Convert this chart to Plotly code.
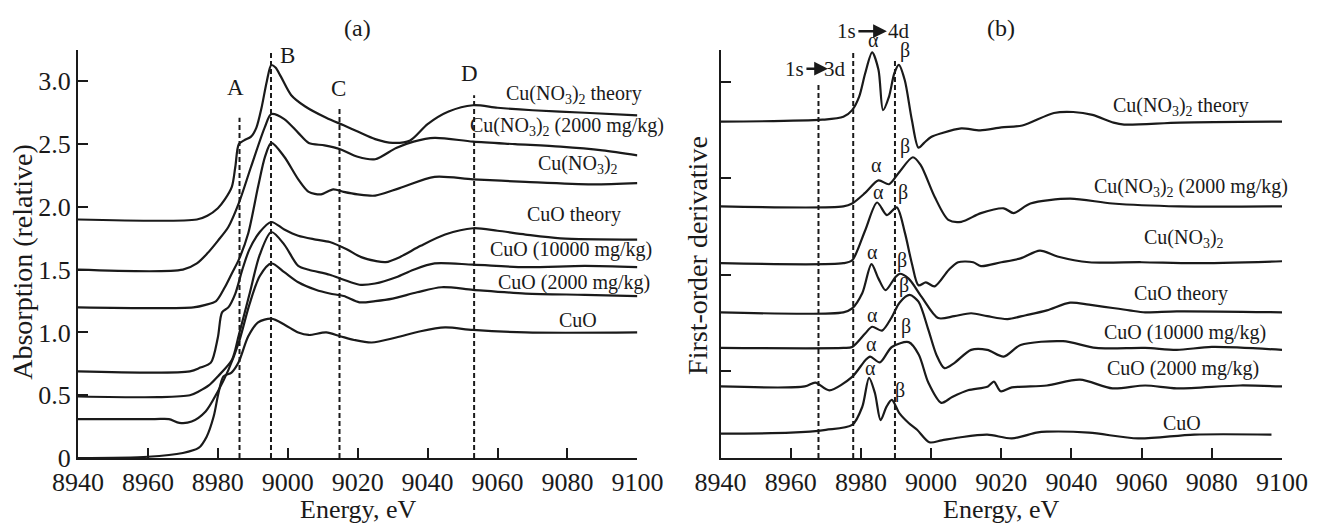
import plotly.graph_objects as go

FONT = "Liberation Serif, Times New Roman, serif"
INK = "#1a1a1a"

# ---------------- Panel (a): absorption spectra ----------------
a_names = ["Cu(NO<sub>3</sub>)<sub>2</sub> theory",
           "Cu(NO<sub>3</sub>)<sub>2</sub> (2000 mg/kg)",
           "Cu(NO<sub>3</sub>)<sub>2</sub>",
           "CuO theory",
           "CuO (10000 mg/kg)",
           "CuO (2000 mg/kg)",
           "CuO"]

a1_E = [8940, 8974, 8977, 8980, 8982, 8984, 8985, 8986, 8987.5, 8989.5, 8991, 8992.5, 8994, 8995.3, 8996.5, 8998, 9001, 9005, 9011, 9016, 9020, 9025, 9030, 9035, 9040, 9046, 9053, 9060, 9070, 9085, 9100]
a1_Y = [1.90, 1.90, 1.93, 1.99, 2.06, 2.16, 2.32, 2.50, 2.53, 2.56, 2.63, 2.79, 3.00, 3.13, 3.11, 3.04, 2.89, 2.80, 2.71, 2.65, 2.60, 2.54, 2.51, 2.53, 2.66, 2.76, 2.81, 2.79, 2.77, 2.75, 2.73]

a2_E = [8940, 8970, 8974, 8977, 8980, 8983, 8986, 8989.5, 8993.5, 8995.3, 8999, 9003, 9006, 9010.5, 9015, 9020, 9025, 9031, 9036, 9042, 9053, 9065, 9078, 9090, 9100]
a2_Y = [1.50, 1.50, 1.55, 1.63, 1.73, 1.84, 2.03, 2.32, 2.64, 2.74, 2.70, 2.59, 2.51, 2.49, 2.46, 2.40, 2.38, 2.47, 2.52, 2.55, 2.52, 2.50, 2.48, 2.45, 2.41]

a3_E = [8940, 8973, 8976.5, 8979.5, 8982, 8984, 8986, 8988.7, 8991.5, 8993.5, 8995.3, 8999, 9003, 9006, 9009.5, 9013, 9016, 9020, 9025, 9032, 9042, 9053, 9068, 9087, 9100]
a3_Y = [1.20, 1.20, 1.22, 1.25, 1.36, 1.47, 1.58, 1.79, 2.16, 2.40, 2.51, 2.40, 2.22, 2.12, 2.10, 2.14, 2.12, 2.10, 2.09, 2.15, 2.24, 2.22, 2.20, 2.18, 2.19]

a4_E = [8940, 8972, 8975, 8978, 8980, 8981.2, 8983, 8985, 8987, 8989, 8992, 8995.3, 8999, 9003, 9008, 9012, 9017, 9021, 9025, 9028, 9032, 9038, 9045, 9053, 9060, 9068, 9078, 9100]
a4_Y = [0.69, 0.69, 0.72, 0.76, 0.96, 1.16, 1.20, 1.31, 1.50, 1.66, 1.80, 1.88, 1.82, 1.77, 1.74, 1.72, 1.66, 1.60, 1.57, 1.56, 1.60, 1.69, 1.78, 1.83, 1.81, 1.78, 1.75, 1.74]

a5_E = [8940, 8963, 8972, 8974.5, 8977.5, 8980, 8984, 8986, 8989, 8992, 8995.3, 8999, 9003, 9006, 9012, 9016, 9020.5, 9025, 9031, 9036, 9042, 9053, 9068, 9085, 9100]
a5_Y = [0.49, 0.485, 0.50, 0.53, 0.58, 0.65, 0.78, 0.98, 1.30, 1.62, 1.80, 1.70, 1.53, 1.50, 1.46, 1.42, 1.38, 1.39, 1.44, 1.50, 1.55, 1.54, 1.52, 1.53, 1.52]

a6_E = [8940, 8962, 8966, 8969, 8972.5, 8976.5, 8980, 8983, 8986, 8989, 8992, 8995.3, 8999, 9003, 9008, 9012, 9016, 9020.5, 9025, 9030, 9037, 9044, 9053, 9068, 9085, 9100]
a6_Y = [0.31, 0.31, 0.31, 0.28, 0.29, 0.37, 0.53, 0.70, 0.92, 1.22, 1.45, 1.55, 1.48, 1.40, 1.34, 1.31, 1.29, 1.24, 1.25, 1.27, 1.32, 1.36, 1.34, 1.31, 1.30, 1.29]

a7_E = [8940, 8960, 8970, 8974.5, 8976.8, 8978.8, 8980.2, 8981.6, 8983.9, 8985.9, 8988.7, 8991.5, 8995.3, 8999.2, 9003, 9006, 9011, 9015, 9019, 9024, 9031, 9038, 9045, 9053, 9068, 9100]
a7_Y = [0.00, 0.01, 0.04, 0.08, 0.17, 0.33, 0.52, 0.65, 0.68, 0.76, 0.97, 1.08, 1.11, 1.06, 1.00, 0.98, 1.00, 0.97, 0.94, 0.92, 0.96, 1.01, 1.04, 1.02, 1.00, 1.00]

a_curves = [(a1_E, a1_Y), (a2_E, a2_Y), (a3_E, a3_Y), (a4_E, a4_Y), (a5_E, a5_Y), (a6_E, a6_Y), (a7_E, a7_Y)]
a_label_E = [9082, 9080, 9083, 9082, 9081, 9082, 9083]
a_label_Y = [2.895, 2.64, 2.34, 1.94, 1.66, 1.40, 1.10]

# feature markers A-D: energy, top of dashed line
feat_names = ["A", "B", "C", "D"]
feat_E = [8986.2, 8995.2, 9014.8, 9053.3]
feat_top = [2.71, 3.25, 2.78, 2.89]
feat_label_E = [8985.0, 8999.9, 9014.6, 9052.0]
feat_label_Y = [2.95, 3.21, 2.94, 3.06]

# ---------------- Panel (b): first-order derivative ----------------
b1_E = [8940, 8969, 8975, 8977.5, 8979.5, 8981.2, 8983.2, 8985, 8986.3, 8988, 8989.5, 8990.8, 8992.5, 8994.5, 8996.4, 8998, 9000, 9003, 9008.6, 9014, 9020, 9026, 9035, 9040.5, 9046, 9052, 9055, 9071, 9100]
b1_Y = [2.59, 2.61, 2.64, 2.71, 2.85, 3.09, 3.31, 3.13, 2.71, 2.85, 3.09, 3.18, 3.02, 2.61, 2.32, 2.37, 2.43, 2.47, 2.52, 2.50, 2.53, 2.55, 2.68, 2.69, 2.66, 2.58, 2.56, 2.58, 2.59]

b2_E = [8940, 8975, 8977.5, 8981.2, 8985, 8988, 8990.8, 8994.8, 8997, 9001, 9004.9, 9008.6, 9014.2, 9020.7, 9023.5, 9028.3, 9039.6, 9051.7, 9070.6, 9100]
b2_Y = [1.71, 1.71, 1.74, 1.85, 1.98, 1.94, 2.06, 2.22, 2.14, 1.81, 1.57, 1.55, 1.64, 1.69, 1.64, 1.74, 1.79, 1.74, 1.71, 1.71]

b3_E = [8940, 8975, 8977.5, 8981.2, 8984.6, 8987.4, 8990.2, 8992.5, 8994.5, 8996.4, 8998.5, 9001, 9005, 9007.7, 9012, 9014.2, 9020, 9025.5, 9031, 9036, 9045, 9060, 9075, 9100]
b3_Y = [1.12, 1.12, 1.15, 1.46, 1.75, 1.62, 1.70, 1.44, 1.12, 0.89, 0.92, 0.88, 1.05, 1.13, 1.13, 1.09, 1.13, 1.17, 1.25, 1.19, 1.13, 1.13, 1.12, 1.14]

b4_E = [8940, 8975, 8977.5, 8980.4, 8983, 8985, 8987, 8989.7, 8991, 8993.6, 8997.3, 9002, 9006.6, 9011.4, 9016, 9021.8, 9027, 9033, 9039.6, 9045, 9056.5, 9061, 9070, 9100]
b4_Y = [0.61, 0.61, 0.65, 0.81, 1.11, 0.96, 0.84, 0.97, 1.01, 0.96, 0.77, 0.55, 0.57, 0.60, 0.57, 0.54, 0.58, 0.63, 0.71, 0.69, 0.63, 0.61, 0.62, 0.61]

b5_E = [8940, 8975, 8977.5, 8981.2, 8983.2, 8986, 8988.8, 8991, 8993.9, 8996.4, 8999.2, 9001.5, 9003.8, 9006.5, 9011.4, 9016, 9020.7, 9025.5, 9037.6, 9047, 9061, 9070, 9080, 9100]
b5_Y = [0.24, 0.24, 0.25, 0.39, 0.46, 0.42, 0.56, 0.71, 0.79, 0.72, 0.43, 0.17, 0.03, 0.08, 0.22, 0.22, 0.15, 0.27, 0.31, 0.24, 0.24, 0.22, 0.25, 0.22]

b6_E = [8940, 8964, 8967, 8971, 8977.5, 8981.2, 8982.6, 8985.4, 8988.8, 8993.6, 8996.5, 8999.2, 9002.9, 9006, 9010.5, 9016.2, 9017.9, 9019.8, 9023, 9033, 9042.4, 9051.7, 9061, 9070, 9088, 9100]
b6_Y = [-0.16, -0.16, -0.12, -0.20, -0.06, 0.11, 0.15, 0.09, 0.25, 0.30, 0.17, -0.12, -0.33, -0.27, -0.20, -0.16, -0.11, -0.21, -0.17, -0.15, -0.09, -0.18, -0.15, -0.18, -0.15, -0.16]

b7_E = [8940, 8960, 8970, 8977.5, 8980.4, 8982.3, 8984, 8985.6, 8987.3, 8988.8, 8991, 8993.6, 8996, 8999.5, 9003, 9008, 9016, 9023, 9030, 9033, 9045, 9059, 9075, 9097]
b7_Y = [-0.65, -0.64, -0.61, -0.56, -0.37, -0.07, -0.23, -0.51, -0.37, -0.30, -0.44, -0.54, -0.61, -0.74, -0.72, -0.69, -0.66, -0.70, -0.64, -0.63, -0.64, -0.70, -0.66, -0.66]

b_curves = [(b1_E, b1_Y), (b2_E, b2_Y), (b3_E, b3_Y), (b4_E, b4_Y), (b5_E, b5_Y), (b6_E, b6_Y), (b7_E, b7_Y)]
b_label_E = [9071.2, 9074.0, 9072.0, 9071.2, 9072.3, 9071.8, 9071.5]
b_label_Y = [2.75, 1.91, 1.38, 0.81, 0.40, 0.03, -0.54]

alpha_E = [8983.7, 8984.3, 8984.9, 8983.2, 8983.2, 8982.9, 8982.6]
alpha_Y = [3.44, 2.14, 1.86, 1.24, 0.58, 0.28, 0.03]
beta_E = [8992.5, 8992.5, 8991.9, 8991.6, 8992.2, 8992.8, 8991.1]
beta_Y = [3.33, 2.33, 1.85, 1.15, 0.89, 0.46, -0.20]

trans_E = [8967.9, 8977.8, 8989.7]
trans_top = [3.00, 3.334, 3.25]

x_ticks = [8940, 8960, 8980, 9000, 9020, 9040, 9060, 9080, 9100]
a_yticks = [0, 0.5, 1.0, 1.5, 2.0, 2.5, 3.0]
a_yticktext = ["0", "0.5", "1.0", "1.5", "2.0", "2.5", "3.0"]
b_yticks = [0, 1, 2, 3]

B_YMIN, B_YMAX = -0.903, 3.334

def b_paper(y):
    # data y of panel (b) -> paper fraction (lets labels sit above the axis range)
    return (y - B_YMIN) / (B_YMAX - B_YMIN)

fig = go.Figure()

for E, Y in a_curves:
    fig.add_trace(go.Scatter(x=E, y=Y, mode="lines", xaxis="x", yaxis="y",
                             line=dict(color=INK, width=2.2, shape="spline", smoothing=0.8),
                             showlegend=False, hoverinfo="skip"))
for E, Y in b_curves:
    fig.add_trace(go.Scatter(x=E, y=Y, mode="lines", xaxis="x2", yaxis="y2",
                             line=dict(color=INK, width=2.2, shape="spline", smoothing=0.8),
                             showlegend=False, hoverinfo="skip"))

shapes = []
for e, top in zip(feat_E, feat_top):
    shapes.append(dict(type="line", xref="x", yref="y", x0=e, x1=e, y0=0, y1=top,
                       line=dict(color=INK, width=2, dash="5px,3px")))
for e, top in zip(trans_E, trans_top):
    shapes.append(dict(type="line", xref="x2", yref="y2", x0=e, x1=e, y0=B_YMIN, y1=top,
                       line=dict(color=INK, width=2, dash="5px,3px")))

LBL = 20
C = dict(xanchor="center", yanchor="middle", showarrow=False)
ann = []
for name, e, y in zip(a_names, a_label_E, a_label_Y):
    ann.append(dict(x=e, y=y, xref="x", yref="y", text=name,
                    font=dict(family=FONT, size=LBL, color=INK), **C))
for name, e, y in zip(feat_names, feat_label_E, feat_label_Y):
    ann.append(dict(x=e, y=y, xref="x", yref="y", text=name,
                    font=dict(family=FONT, size=23, color=INK), **C))
for name, e, y in zip(a_names, b_label_E, b_label_Y):
    ann.append(dict(x=e, y=y, xref="x2", yref="y2", text=name,
                    font=dict(family=FONT, size=LBL, color=INK), **C))
for e, y in zip(alpha_E, alpha_Y):
    ann.append(dict(x=e, y=b_paper(y), xref="x2", yref="paper", text="α",
                    font=dict(family=FONT, size=20, color=INK), **C))
for e, y in zip(beta_E, beta_Y):
    ann.append(dict(x=e, y=b_paper(y), xref="x2", yref="paper", text="β",
                    font=dict(family=FONT, size=20, color=INK), **C))

# transition labels 1s -> 3d, 1s -> 4d  (arrow length in pixels)
for (t1, t2, y, head, alen, t1x, t2x) in [("1s", "3d", 3.14, 8970.6, 23, 8961.2, 8972.7),
                                          ("1s", "4d", 3.53, 8987.4, 30, 8975.8, 8990.8)]:
    py = b_paper(y)
    ann.append(dict(x=t1x, y=py, xref="x2", yref="paper", text=t1,
                    font=dict(family=FONT, size=21, color=INK), **C))
    ann.append(dict(x=t2x, y=py, xref="x2", yref="paper", text=t2,
                    font=dict(family=FONT, size=21, color=INK), **C))
    ann.append(dict(x=head, y=py, ax=-alen, ay=0, xref="x2", yref="paper",
                    text="", showarrow=True, arrowhead=2, arrowsize=1.1, arrowwidth=2.5, arrowcolor=INK))

# panel titles and axis titles
ann += [
    dict(x=0.2319, y=1.054, xref="paper", yref="paper", text="(a)",
         font=dict(family=FONT, size=24, color=INK), **C),
    dict(x=0.7664, y=1.054, xref="paper", yref="paper", text="(b)",
         font=dict(family=FONT, size=24, color=INK), **C),
    dict(x=0.2323, y=-0.127, xref="paper", yref="paper", text="Energy, eV",
         font=dict(family=FONT, size=26, color=INK), **C),
    dict(x=0.7668, y=-0.127, xref="paper", yref="paper", text="Energy, eV",
         font=dict(family=FONT, size=26, color=INK), **C),
    dict(x=-0.046, y=0.48, xref="paper", yref="paper", text="Absorption (relative)",
         textangle=-90, font=dict(family=FONT, size=28, color=INK), **C),
    dict(x=0.514, y=0.4975, xref="paper", yref="paper", text="First-order derivative",
         textangle=-90, font=dict(family=FONT, size=28, color=INK), **C),
]

axis_common = dict(showgrid=False, zeroline=False, showline=True, linecolor=INK, linewidth=2,
                   ticks="inside", ticklen=10, tickwidth=2, tickcolor=INK,
                   tickfont=dict(family=FONT, size=26, color=INK))

fig.update_layout(
    width=1320, height=523,
    margin=dict(l=78, r=26, t=50, b=65),
    paper_bgcolor="white", plot_bgcolor="white",
    xaxis=dict(domain=[0, 0.4646], range=[8940, 9100], tickvals=x_ticks, anchor="y", **axis_common),
    yaxis=dict(domain=[0, 1], range=[0, 3.25], tickvals=a_yticks, ticktext=a_yticktext, anchor="x", **axis_common),
    xaxis2=dict(domain=[0.5337, 1], range=[8940, 9100], tickvals=x_ticks, anchor="y2", **axis_common),
    yaxis2=dict(domain=[0, 1], range=[B_YMIN, B_YMAX], tickvals=b_yticks, ticktext=["", "", "", ""], anchor="x2", **axis_common),
    shapes=shapes, annotations=ann,
)

# remove the default page margin / scrollbars so the 1320x523 figure fills the window exactly
page_fix = ("document.documentElement.style.overflow='hidden';"
            "document.body.style.margin='0';document.body.style.overflow='hidden';")
fig.write_html("out.html", post_script=page_fix, config={"displayModeBar": False})
